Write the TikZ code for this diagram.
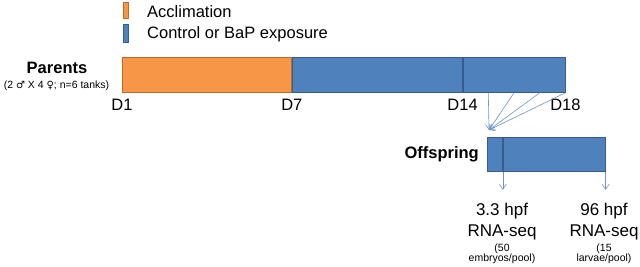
\documentclass[tikz,border=0pt]{standalone}
\usepackage{fontspec}
\setmainfont{Liberation Sans}
\newfontfamily\symfont{DejaVu Sans}
\usetikzlibrary{arrows.meta,positioning,calc}
\definecolor{acclOrange}{HTML}{F79646}
\definecolor{acclEdge}{HTML}{B66D31}
\definecolor{expoBlue}{HTML}{4F81BD}
\definecolor{expoEdge}{HTML}{385D8A}
\definecolor{linkBlue}{HTML}{6E93C9}

\begin{document}
\begin{tikzpicture}[
    x=1pt, y=-1pt,
    font=\fontsize{16.5}{20}\selectfont,
    >={Straight Barb[length=5pt,width=7pt]},
    accl/.style={rectangle, draw=acclEdge, line width=0.8pt, fill=acclOrange,
      minimum height=35pt, inner sep=0pt},
    expo/.style={rectangle, draw=expoEdge, line width=0.8pt, fill=expoBlue,
      minimum height=35pt, inner sep=0pt},
    keyA/.style={rectangle, draw=acclEdge, line width=0.5pt, fill=acclOrange,
      minimum width=5pt, minimum height=16pt, inner sep=0pt},
    keyB/.style={rectangle, draw=expoEdge, line width=0.5pt, fill=expoBlue,
      minimum width=5pt, minimum height=18pt, inner sep=0pt},
    txt/.style={inner sep=0pt, anchor=base west},
    day/.style={inner sep=0pt},
    head/.style={inner sep=0pt, font=\fontsize{16.5}{20}\selectfont\bfseries},
    note/.style={inner sep=0pt, align=center, font=\fontsize{10.5}{10.5}\selectfont},
    result/.style={inner sep=0pt, align=center, font=\fontsize{17}{21}\selectfont},
    link/.style={->, line width=0.6pt, draw=linkBlue}
  ]
  \useasboundingbox (0,0) rectangle (640,266);
  % legend
  \node[keyA, anchor=north west] (keyAccl) at (122.5,2) {};
  \node[keyB, anchor=north west] (keyExpo) at (123,23.5) {};
  \node[txt] (keyAcclText) at (147,17) {Acclimation};
  \node[txt] (keyExpoText) at (147,38) {Control or BaP exposure};
  % parents
  \node[accl, minimum width=169pt, anchor=north west] (accl) at (122,57) {};
  \node[expo, minimum width=170pt, right=0pt of accl] (expoA) {};
  \node[expo, minimum width=102pt, right=0pt of expoA] (expoB) {};
  \node[head, anchor=base] (parents) at (57,73) {Parents};
  \node[note, anchor=base] (parentsNote) at (56.5,88)
    {(2 {\symfont\fontsize{10}{10}\selectfont ♂} X 4 {\symfont\fontsize{10}{10}\selectfont ♀}; n=6 tanks)};
  \node[day, below=6pt of accl.south west] (dOne) {D1};
  \node[day, below=6pt of expoA.south west] (dSeven) {D7};
  \node[day, below=6pt of expoB.south west] (dFourteen) {D14};
  \node[day, below=6pt of expoB.south east] (dEighteen) {D18};
  % offspring
  \node[expo, minimum width=15pt, minimum height=34pt, anchor=north west] (offA) at (487,137) {};
  \node[expo, minimum width=102pt, minimum height=34pt, right=0pt of offA] (offB) {};
  \node[head, left=8pt of offA] (offspring) {Offspring};
  \coordinate (eggs) at (489,130);
  \foreach \f in {0.25,0.5,0.75,1}
    \draw[link] ($(expoB.south west)!\f!(expoB.south east)$) -- (eggs);
  % sampling
  \coordinate[below=18pt of offB.south west] (earlyEnd);
  \coordinate[below=18pt of offB.south east] (lateEnd);
  \draw[link] (offB.south west) -- (earlyEnd);
  \draw[link] (offB.south east) -- (lateEnd);
  \node[result, anchor=north] (early) at (502,203) {3.3 hpf\\RNA-seq};
  \node[note, below=3pt of early] (earlyNote) {(50\\embryos/pool)};
  \node[result, anchor=north] (late) at (604,203) {96 hpf\\RNA-seq};
  \node[note, below=3pt of late] (lateNote) {(15\\larvae/pool)};
\end{tikzpicture}
\end{document}
